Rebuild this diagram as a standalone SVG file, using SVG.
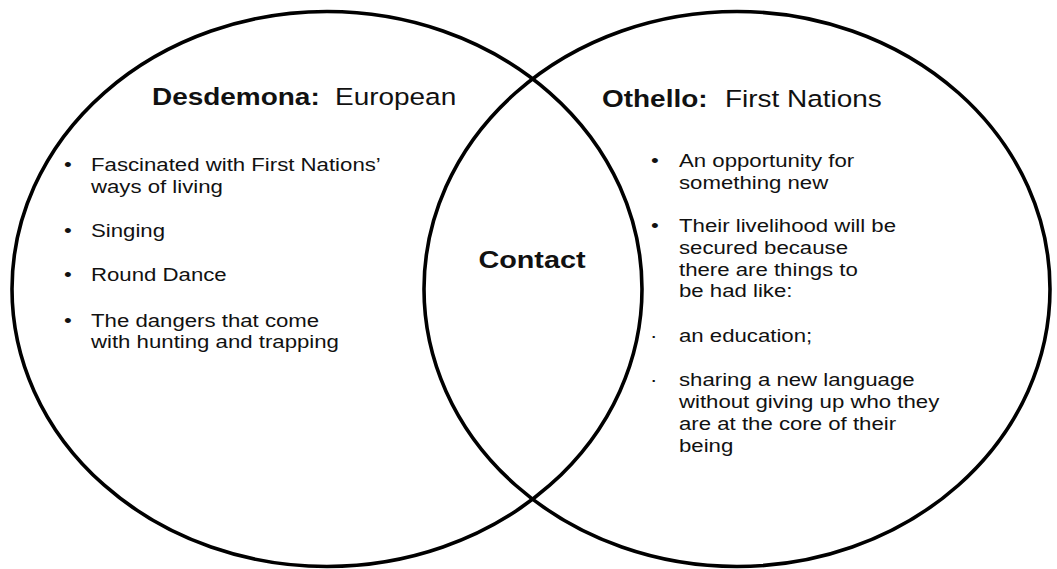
<svg xmlns="http://www.w3.org/2000/svg" width="1057" height="569" viewBox="0 0 1057 569">
<style>
.ring{fill:none;stroke:#000;stroke-width:3.6}
text{font-family:"Liberation Sans",Arial,sans-serif;fill:#111}
.title{font-size:23.3px}
.b{font-weight:bold}
.body{font-size:18.5px}
.contact{font-size:24px;font-weight:bold;text-anchor:middle}
</style>
<rect width="1057" height="569" fill="#fff"/>
<g id="connectors"></g>
<g id="desdemona">
<ellipse class="ring" cx="327" cy="289" rx="315" ry="277.5"/>
<g transform="scale(1.2,1)">
<text class="title"><tspan class="b" x="126.67" y="105">Desdemona:</tspan><tspan x="279.17" y="105">European</tspan></text>
<text class="body">
<tspan x="53.33" y="171">•</tspan><tspan x="75.83" y="171">Fascinated with First Nations’</tspan>
<tspan x="75.83" y="193">ways of living</tspan>
<tspan x="53.33" y="237">•</tspan><tspan x="75.83" y="237">Singing</tspan>
<tspan x="53.33" y="281">•</tspan><tspan x="75.83" y="281">Round Dance</tspan>
<tspan x="53.33" y="327">•</tspan><tspan x="75.83" y="327">The dangers that come</tspan>
<tspan x="75.83" y="348">with hunting and trapping</tspan>
</text>
</g>
</g>
<g id="othello">
<ellipse class="ring" cx="737" cy="289" rx="313" ry="277.5"/>
<g transform="scale(1.2,1)">
<text class="title"><tspan class="b" x="501.67" y="107">Othello:</tspan><tspan x="604.17" y="107">First Nations</tspan></text>
<text class="body">
<tspan x="542.5" y="167">•</tspan><tspan x="565.83" y="167">An opportunity for</tspan>
<tspan x="565.83" y="189">something new</tspan>
<tspan x="542.5" y="232">•</tspan><tspan x="565.83" y="232">Their livelihood will be</tspan>
<tspan x="565.83" y="254">secured because</tspan>
<tspan x="565.83" y="276">there are things to</tspan>
<tspan x="565.83" y="297">be had like:</tspan>
<tspan x="541.67" y="342">·</tspan><tspan x="565.83" y="342">an education;</tspan>
<tspan x="541.67" y="386">·</tspan><tspan x="565.83" y="386">sharing a new language</tspan>
<tspan x="565.83" y="408">without giving up who they</tspan>
<tspan x="565.83" y="430">are at the core of their</tspan>
<tspan x="565.83" y="452">being</tspan>
</text>
</g>
</g>
<g id="contact">
<g transform="scale(1.2,1)">
<text class="contact" x="443.33" y="268">Contact</text>
</g>
</g>
</svg>
